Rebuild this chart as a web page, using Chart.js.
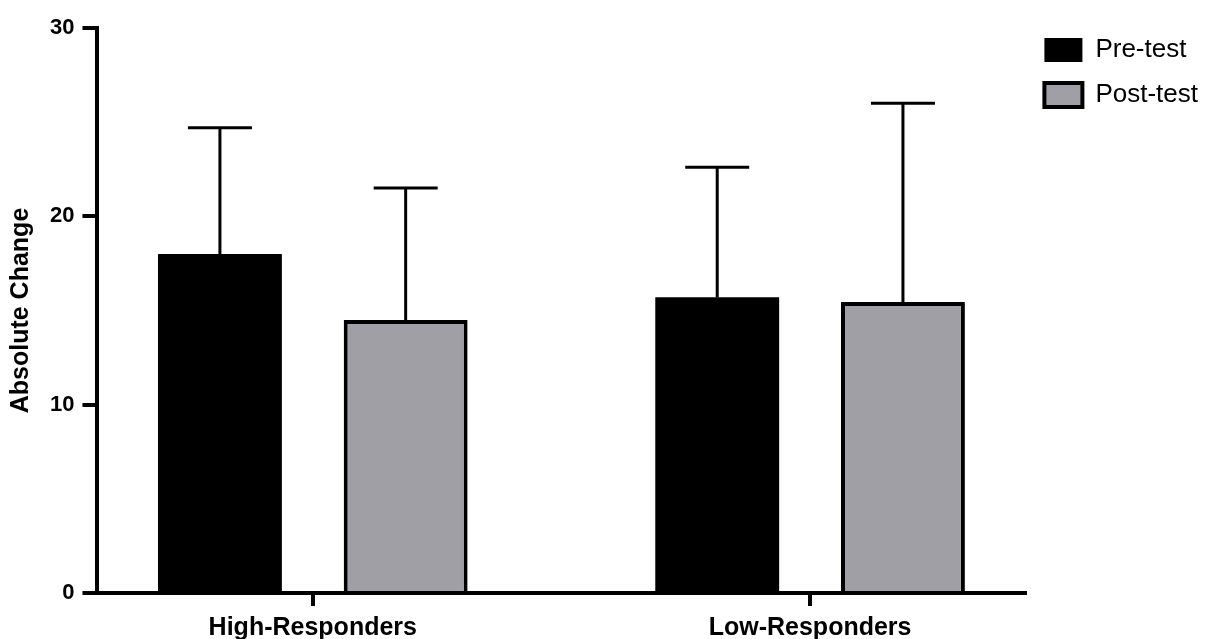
<!DOCTYPE html>
<html>
<head>
<meta charset="utf-8">
<script src="https://cdn.jsdelivr.net/npm/chart.js@4.4.1/dist/chart.umd.min.js"></script>
<style>
  html, body { margin: 0; padding: 0; background: #fff; }
  #wrap { width: 1206px; height: 639px; position: relative; }
</style>
</head>
<body>
<div id="wrap"><canvas id="chart"></canvas></div>
<script>
// values
const categories = ['High-Responders', 'Low-Responders'];
const seriesNames = ['Pre-test', 'Post-test'];
const preMeans = [18.0, 15.7];
const preSD = [6.7, 6.9];
const postMeans = [14.5, 15.45];
const postSD = [7.0, 10.55];
const yTicks = [0, 10, 20, 30];

const FONT = "'Liberation Sans', Arial, sans-serif";

// simple error bars (upper whisker only), drawn from the bar tops
const errorBars = {
  id: 'errorBars',
  afterDatasetsDraw(chart) {
    const ctx = chart.ctx;
    const yScale = chart.scales.y;
    chart.data.datasets.forEach((ds, di) => {
      const meta = chart.getDatasetMeta(di);
      meta.data.forEach((bar, i) => {
        const top = yScale.getPixelForValue(ds.data[i].y + ds.errors[i]);
        ctx.save();
        ctx.strokeStyle = '#000';
        ctx.lineWidth = 3;
        ctx.beginPath();
        ctx.moveTo(bar.x, bar.y);
        ctx.lineTo(bar.x, top);
        ctx.moveTo(bar.x - 32, top);
        ctx.lineTo(bar.x + 32, top);
        ctx.stroke();
        ctx.restore();
      });
    });
  }
};

const toPoints = arr => arr.map((v, i) => ({ x: i, y: v }));

new Chart(document.getElementById('chart'), {
  type: 'bar',
  data: {
    datasets: [
      {
        label: seriesNames[0],
        data: toPoints(preMeans),
        errors: preSD,
        backgroundColor: '#000',
        borderColor: '#000',
        borderWidth: 0
      },
      {
        label: seriesNames[1],
        data: toPoints(postMeans),
        errors: postSD,
        backgroundColor: '#a09fa5',
        borderColor: '#000',
        borderWidth: 4
      }
    ]
  },
  plugins: [errorBars],
  options: {
    responsive: true,
    maintainAspectRatio: false,
    animation: false,
    categoryPercentage: 0.747,
    barPercentage: 0.667,
    layout: { padding: { top: 18, right: -2, left: 6, bottom: -12 } },
    plugins: {
      tooltip: { enabled: false },
      // empty spacer above the plot only, so the legend can sit higher
      title: {
        display: true,
        text: '',
        fullSize: false,
        padding: 0,
        font: { size: 10, lineHeight: 1 }
      },
      legend: {
        position: 'right',
        align: 'start',
        labels: {
          boxWidth: 38,
          boxHeight: 24,
          padding: 19,
          color: '#000',
          font: { family: FONT, size: 26 }
        }
      }
    },
    scales: {
      x: {
        type: 'linear',
        min: -0.433,
        max: 1.433,
        offset: false,
        afterBuildTicks: axis => { axis.ticks = categories.map((c, i) => ({ value: i })); },
        grid: { offset: false, drawOnChartArea: false, drawTicks: true, tickLength: 13, lineWidth: 4, color: '#000' },
        border: { width: 4, color: '#000' },
        ticks: {
          callback: v => categories[v],
          autoSkip: false,
          maxRotation: 0,
          padding: 10,
          color: '#000',
          font: { family: FONT, size: 25, weight: 'bold', lineHeight: 1.0 }
        }
      },
      y: {
        min: 0,
        max: 30,
        afterBuildTicks: axis => { axis.ticks = yTicks.map(v => ({ value: v })); },
        grid: { drawOnChartArea: false, drawTicks: true, tickLength: 15, lineWidth: 4, color: '#000' },
        border: { width: 4, color: '#000' },
        ticks: {
          padding: 8,
          color: '#000',
          font: { family: FONT, size: 22, weight: 'bold' }
        },
        title: {
          display: true,
          text: 'Absolute Change',
          color: '#000',
          padding: { top: 0, bottom: 6 },
          font: { family: FONT, size: 25, weight: 'bold' }
        }
      }
    }
  }
});
</script>
</body>
</html>
